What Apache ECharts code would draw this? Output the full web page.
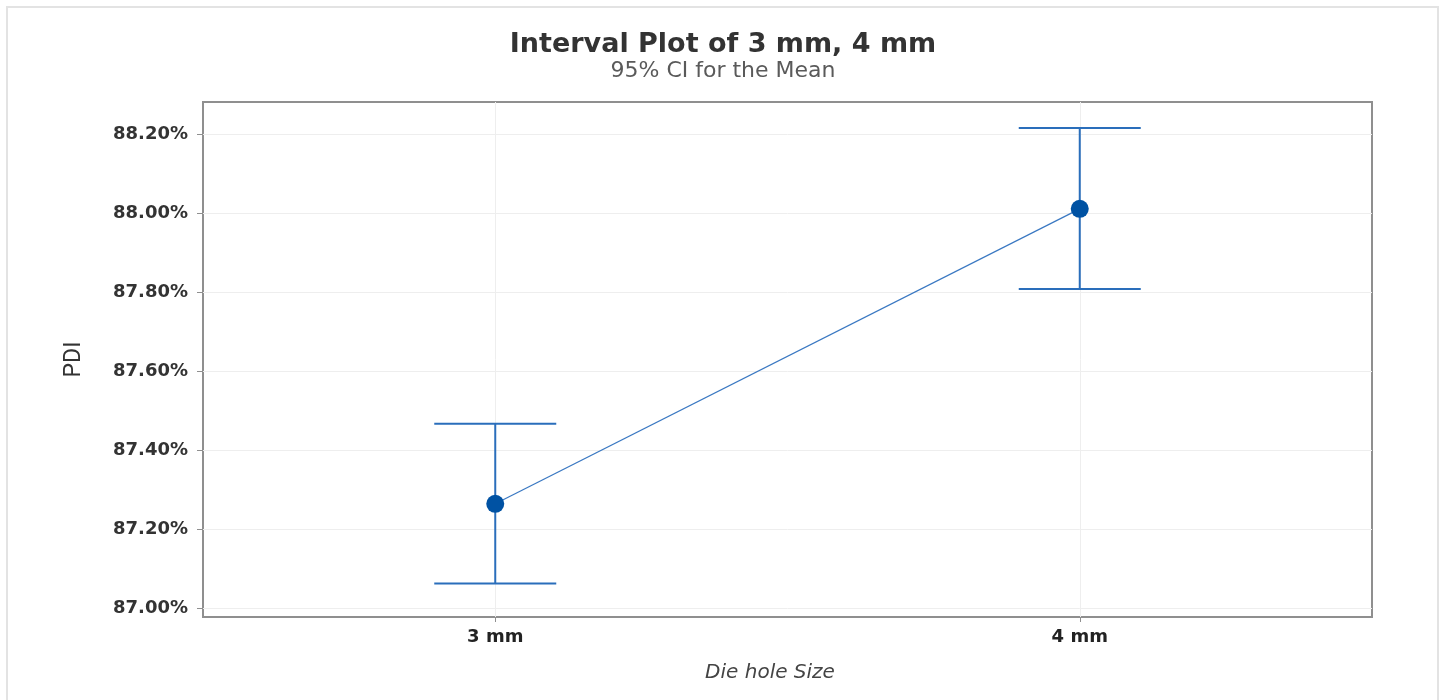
<!DOCTYPE html>
<html>
<head>
<meta charset="utf-8">
<script src="https://cdn.jsdelivr.net/npm/echarts@6/dist/echarts.min.js"></script>
<style>
html,body{margin:0;padding:0;background:#fff;}
#chart{width:1446px;height:700px;}
</style>
</head>
<body>
<div id="chart"></div>
<script>
// Data
var categories = ['3 mm', '4 mm'];
var means = [87.264, 88.012];
var lower = [87.062, 87.809];
var upper = [87.467, 88.217];
var yTicks = [87.0, 87.2, 87.4, 87.6, 87.8, 88.0, 88.2];

var xPos = categories.map(function (c, i) { return i + 1; });
var meanData = means.map(function (m, i) { return [xPos[i], m]; });
var ciData = means.map(function (m, i) { return [xPos[i], lower[i], upper[i]]; });

var chart = echarts.init(document.getElementById('chart'), null, {renderer: 'canvas'});
var option = {
  backgroundColor: '#ffffff',
  animation: false,
  title: {
    text: 'Interval Plot of 3 mm, 4 mm',
    subtext: '95% CI for the Mean',
    left: 'center',
    top: 26,
    itemGap: 2,
    textStyle: {fontFamily: 'DejaVu Sans', fontSize: 27, fontWeight: 'bold', color: '#333333'},
    subtextStyle: {fontFamily: 'DejaVu Sans', fontSize: 22, color: '#5a5a5a'}
  },
  graphic: [
    {type: 'rect', shape: {x: 7, y: 7, width: 1431, height: 700}, style: {fill: 'none', stroke: '#e3e3e3', lineWidth: 2}, silent: true},
    {type: 'text', x: 770, y: 673, style: {text: 'Die hole Size', font: 'italic 20px "DejaVu Sans"', fill: '#444444', align: 'center', verticalAlign: 'middle'}}
  ],
  grid: {left: 203, top: 102, right: 74, bottom: 83, show: true, borderColor: '#8f8f8f', borderWidth: 2, backgroundColor: 'transparent'},
  xAxis: {
    type: 'value',
    min: 0.5,
    max: 2.5,
    axisLine: {show: false},
    axisTick: {show: true, customValues: xPos, length: 5, lineStyle: {color: '#8f8f8f'}},
    axisLabel: {
      customValues: xPos,
      margin: 11,
      formatter: function (v) { return categories[Math.round(v) - 1] || ''; },
      fontFamily: 'DejaVu Sans', fontWeight: 'bold', fontSize: 18, color: '#222222'
    },
    splitLine: {show: true, lineStyle: {color: '#eeeeee', width: 1}}
  },
  yAxis: {
    type: 'value',
    min: 86.977,
    max: 88.283,
    name: 'PDI',
    nameLocation: 'middle',
    nameGap: 117,
    nameTextStyle: {fontFamily: 'Roboto', fontSize: 23, color: '#333333'},
    axisLine: {show: false},
    axisTick: {show: true, customValues: yTicks, length: 6, lineStyle: {color: '#8f8f8f'}},
    axisLabel: {
      customValues: yTicks,
      margin: 15,
      formatter: function (v) { return v.toFixed(2) + '%'; },
      fontFamily: 'DejaVu Sans', fontWeight: 'bold', fontSize: 18, color: '#333333'
    },
    splitLine: {show: true, lineStyle: {color: '#eeeeee', width: 1}}
  },
  series: [
    {
      type: 'custom',
      name: 'CI',
      data: ciData,
      z: 3,
      renderItem: function (params, api) {
        var x = api.value(0);
        var lo = api.coord([x, api.value(1)]);
        var hi = api.coord([x, api.value(2)]);
        var hw = 61;
        var st = {stroke: '#2a6ebb', lineWidth: 2, fill: 'none'};
        return {
          type: 'group',
          children: [
            {type: 'line', shape: {x1: lo[0], y1: lo[1], x2: hi[0], y2: hi[1]}, style: st},
            {type: 'line', shape: {x1: lo[0] - hw, y1: lo[1], x2: lo[0] + hw, y2: lo[1]}, style: st},
            {type: 'line', shape: {x1: hi[0] - hw, y1: hi[1], x2: hi[0] + hw, y2: hi[1]}, style: st}
          ]
        };
      }
    },
    {
      type: 'line',
      name: 'Mean',
      data: meanData,
      z: 4,
      symbol: 'circle',
      symbolSize: 18,
      lineStyle: {color: '#3a78c2', width: 1.2},
      itemStyle: {color: '#0052a3'}
    }
  ]
};
chart.setOption(option);
</script>
</body>
</html>
